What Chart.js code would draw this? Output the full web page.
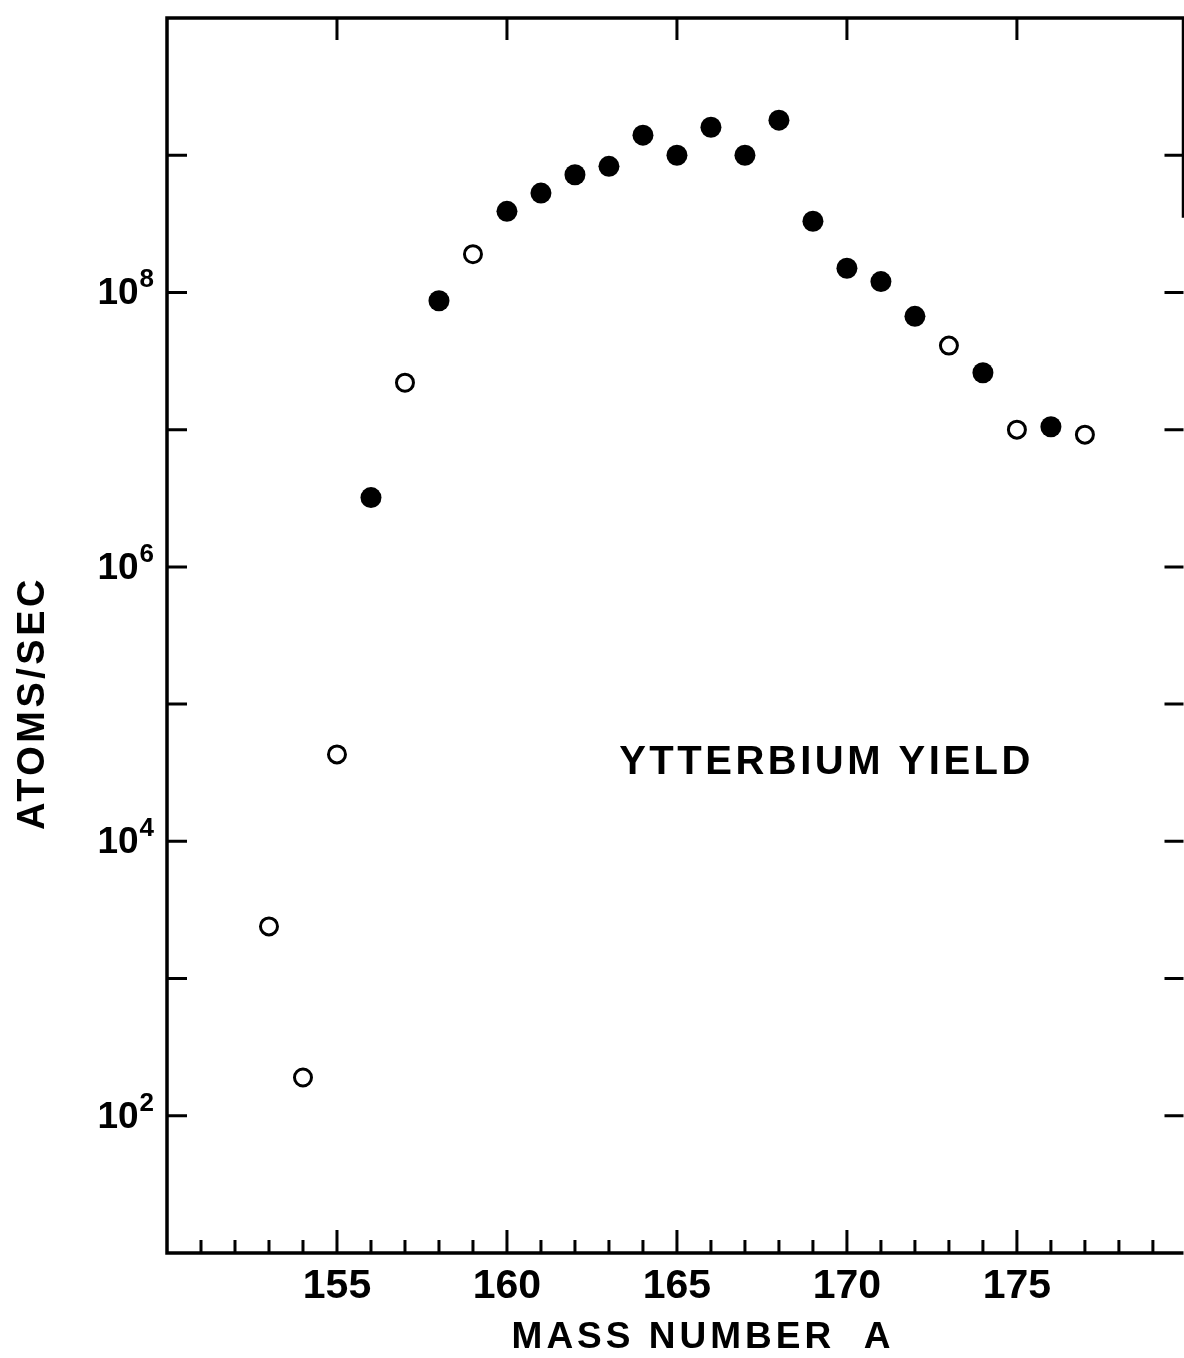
<!DOCTYPE html>
<html>
<head>
<meta charset="utf-8">
<title>Ytterbium Yield</title>
<script src="https://cdn.jsdelivr.net/npm/chart.js@4.4.1/dist/chart.umd.min.js"></script>
<style>
  html, body { margin: 0; padding: 0; background: #fff; overflow: hidden; }
  /* um pouco mais largo que a janela: o Chart.js reserva espaço à direita para os pontos */
  #caixa { width: 1195px; height: 1358px; position: relative; }
</style>
</head>
<body>
<div id="caixa"><canvas id="rendimentoChart"></canvas></div>
<script>
// Pontos abertos (círculos vazios): número de massa e átomos/seg
const massasAbertas = [153, 154, 155, 157, 159, 173, 175, 177];
const valoresAbertos = [2.4e3, 1.9e2, 4.3e4, 2.2e7, 1.9e8, 4.1e7, 1.0e7, 9.2e6];

// Pontos cheios (círculos pretos)
const massasCheias = [156, 158, 160, 161, 162, 163, 164, 165, 166, 167, 168, 169, 170, 171, 172, 174, 176];
const valoresCheios = [3.2e6, 8.7e7, 3.9e8, 5.3e8, 7.2e8, 8.3e8, 1.4e9, 1.0e9, 1.6e9, 1.0e9, 1.8e9, 3.3e8, 1.5e8, 1.2e8, 6.7e7, 2.6e7, 1.05e7];

// Marcas dos eixos
const ticksMenoresX = [151, 152, 153, 154, 155, 156, 157, 158, 159, 160, 161, 162, 163, 164, 165,
                       166, 167, 168, 169, 170, 171, 172, 173, 174, 175, 176, 177, 178, 179];
const ticksMaioresX = [155, 160, 165, 170, 175];
const decadasY = [1e2, 1e3, 1e4, 1e5, 1e6, 1e7, 1e8, 1e9];
const expoentesRotulados = [2, 4, 6, 8];

// Textos
const tituloX = 'MASS NUMBER  A';
const tituloY = 'ATOMS/SEC';
const anotacao = 'YTTERBIUM YIELD';
const anotacaoX = 169.4;
const anotacaoY = 3.1e4;

const fonte = '"Liberation Sans", Arial, Helvetica, sans-serif';

// Plugin que desenha moldura, marcas para dentro, rótulos 10^n e títulos
const marcasPlugin = {
    id: 'marcas',
    afterDraw(chart) {
        const ctx = chart.ctx;
        const area = chart.chartArea;
        const sx = chart.scales.x;
        const sy = chart.scales.y;

        ctx.save();
        ctx.strokeStyle = '#000';
        ctx.fillStyle = '#000';

        // Moldura (a borda direita está cortada na figura original)
        ctx.lineWidth = 3.5;
        ctx.beginPath();
        ctx.moveTo(area.right, sy.getPixelForValue(3.5e8));
        ctx.lineTo(area.right, area.top);
        ctx.lineTo(area.left, area.top);
        ctx.lineTo(area.left, area.bottom);
        ctx.lineTo(area.right, area.bottom);
        ctx.stroke();

        // Marcas do eixo x
        ctx.lineWidth = 3;
        ctx.beginPath();
        ticksMenoresX.forEach(v => {
            const px = sx.getPixelForValue(v);
            const comp = ticksMaioresX.includes(v) ? 23 : 13;
            ctx.moveTo(px, area.bottom);
            ctx.lineTo(px, area.bottom - comp);
        });
        ticksMaioresX.forEach(v => {
            const px = sx.getPixelForValue(v);
            ctx.moveTo(px, area.top);
            ctx.lineTo(px, area.top + 22);
        });
        // Marcas do eixo y (esquerda e direita)
        decadasY.forEach(v => {
            const py = sy.getPixelForValue(v);
            ctx.moveTo(area.left, py);
            ctx.lineTo(area.left + 20, py);
            ctx.moveTo(area.right, py);
            ctx.lineTo(area.right - 19, py);
        });
        ctx.stroke();

        // Rótulos 10^n
        ctx.textAlign = 'right';
        ctx.textBaseline = 'alphabetic';
        expoentesRotulados.forEach(e => {
            const py = sy.getPixelForValue(Math.pow(10, e));
            ctx.font = 'bold 26px ' + fonte;
            const sup = String(e);
            const largura = ctx.measureText(sup).width;
            ctx.fillText(sup, area.left - 13, py - 5);
            ctx.font = 'bold 37px ' + fonte;
            ctx.fillText('10', area.left - 14 - largura, py + 12);
        });

        // Título do eixo x
        ctx.textAlign = 'center';
        ctx.font = 'bold 37px ' + fonte;
        ctx.letterSpacing = '4px';
        ctx.fillText(tituloX, 703, area.bottom + 95);

        // Anotação dentro do gráfico
        ctx.font = 'bold 40px ' + fonte;
        ctx.letterSpacing = '3.5px';
        ctx.fillText(anotacao, sx.getPixelForValue(anotacaoX), sy.getPixelForValue(anotacaoY));

        // Título do eixo y (vertical)
        ctx.translate(44, 703);
        ctx.rotate(-Math.PI / 2);
        ctx.font = 'bold 38px ' + fonte;
        ctx.letterSpacing = '3.5px';
        ctx.fillText(tituloY, 0, 0);

        ctx.restore();
    }
};

function desenharGrafico() {
    const ctx = document.getElementById('rendimentoChart').getContext('2d');

    const pontosAbertos = massasAbertas.map((m, i) => ({ x: m, y: valoresAbertos[i] }));
    const pontosCheios = massasCheias.map((m, i) => ({ x: m, y: valoresCheios[i] }));

    new Chart(ctx, {
        type: 'scatter',
        data: {
            datasets: [{
                label: 'Cheios',
                data: pontosCheios,
                pointRadius: 10.5,
                pointBackgroundColor: '#000',
                pointBorderColor: '#000',
                pointBorderWidth: 0
            }, {
                label: 'Abertos',
                data: pontosAbertos,
                pointRadius: 8.5,
                pointBackgroundColor: '#fff',
                pointBorderColor: '#000',
                pointBorderWidth: 3
            }]
        },
        options: {
            responsive: true,
            maintainAspectRatio: false,
            animation: false,
            layout: { padding: { left: 167, top: 18, right: 1, bottom: 35 } },
            plugins: {
                legend: { display: false },
                tooltip: { enabled: false }
            },
            scales: {
                x: {
                    type: 'linear',
                    min: 150,
                    max: 179.9,
                    grid: { display: false, drawTicks: false },
                    border: { display: false },
                    ticks: {
                        stepSize: 1,
                        autoSkip: false,
                        maxRotation: 0,
                        padding: 9,
                        color: '#000',
                        font: { family: fonte, size: 41, weight: 'bold' },
                        callback: v => ticksMaioresX.includes(v) ? String(v) : ''
                    },
                    afterFit: s => {
                        s.height = 70;
                        s.paddingLeft = 0;
                        s.paddingRight = 0;
                    }
                },
                y: {
                    type: 'logarithmic',
                    min: 10,
                    max: 1e10,
                    grid: { display: false, drawTicks: false },
                    border: { display: false },
                    ticks: { display: false },
                    afterFit: s => {
                        s.width = 0;
                        s.paddingTop = 0;
                        s.paddingBottom = 0;
                    }
                }
            }
        },
        plugins: [marcasPlugin]
    });
}

window.onload = desenharGrafico;
</script>
</body>
</html>
